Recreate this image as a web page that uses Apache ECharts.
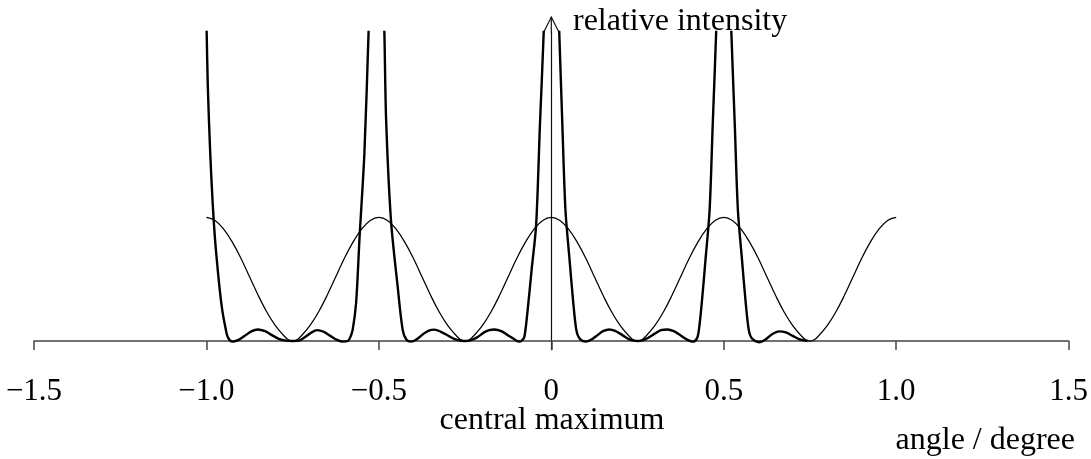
<!DOCTYPE html>
<html>
<head>
<meta charset="utf-8">
<script src="https://cdn.jsdelivr.net/npm/echarts@6/dist/echarts.min.js"></script>
<style>
html,body{margin:0;padding:0;background:#fff;}
#chart{width:1091px;height:459px;}
</style>
</head>
<body>
<div id="chart"></div>
<script>
// x-axis ticks and labels
const xTicks = [-1.5, -1.0, -0.5, 0, 0.5, 1.0, 1.5];
const xTickLabels = ['\u22121.5', '\u22121.0', '\u22120.5', '0', '0.5', '1.0', '1.5'];

// thin curve (double-slit pattern) [angle, relative intensity]
const thinCurve = [
  [-1.000,1.000],[-0.975,0.975],[-0.950,0.905],[-0.925,0.800],[-0.900,0.670],[-0.875,0.520],[-0.850,0.370],[-0.825,0.235],[-0.800,0.125],[-0.775,0.042],[-0.7625,0.011],[-0.750,0.000],
  [-0.7375,0.011],[-0.725,0.042],[-0.700,0.125],[-0.675,0.235],[-0.650,0.370],[-0.625,0.520],[-0.600,0.670],[-0.575,0.800],[-0.550,0.905],[-0.525,0.975],[-0.500,1.000],
  [-0.475,0.975],[-0.450,0.905],[-0.425,0.800],[-0.400,0.670],[-0.375,0.520],[-0.350,0.370],[-0.325,0.235],[-0.300,0.125],[-0.275,0.042],[-0.2625,0.011],[-0.250,0.000],
  [-0.2375,0.011],[-0.225,0.042],[-0.200,0.125],[-0.175,0.235],[-0.150,0.370],[-0.125,0.520],[-0.100,0.670],[-0.075,0.800],[-0.050,0.905],[-0.025,0.975],[0.000,1.000],
  [0.025,0.975],[0.050,0.905],[0.075,0.800],[0.100,0.670],[0.125,0.520],[0.150,0.370],[0.175,0.235],[0.200,0.125],[0.225,0.042],[0.2375,0.011],[0.250,0.000],
  [0.2625,0.011],[0.275,0.042],[0.300,0.125],[0.325,0.235],[0.350,0.370],[0.375,0.520],[0.400,0.670],[0.425,0.800],[0.450,0.905],[0.475,0.975],[0.500,1.000],
  [0.525,0.975],[0.550,0.905],[0.575,0.800],[0.600,0.670],[0.625,0.520],[0.650,0.370],[0.675,0.235],[0.700,0.125],[0.725,0.042],[0.7375,0.011],[0.750,0.000],
  [0.7625,0.011],[0.775,0.042],[0.800,0.125],[0.825,0.235],[0.850,0.370],[0.875,0.520],[0.900,0.670],[0.925,0.800],[0.950,0.905],[0.975,0.975],[1.000,1.000]
];

// thick curve (multi-slit grating pattern) [angle, relative intensity]
const thickCurve = [
  [-1.000,2.600],[-0.996,2.060],[-0.989,1.520],[-0.982,1.120],[-0.975,0.820],[-0.967,0.570],[-0.960,0.380],[-0.953,0.230],[-0.945,0.110],[-0.938,0.030],
  [-0.925,-0.005],[-0.910,0.005],[-0.890,0.040],[-0.870,0.078],[-0.851,0.094],[-0.830,0.080],[-0.810,0.048],[-0.790,0.018],[-0.770,0.003],[-0.750,0.000],
  [-0.730,0.005],[-0.715,0.030],[-0.695,0.070],[-0.679,0.088],[-0.660,0.075],[-0.640,0.040],[-0.620,0.008],[-0.605,-0.005],[-0.590,0.000],[-0.583,0.030],
  [-0.576,0.090],[-0.566,0.310],[-0.556,0.840],[-0.542,1.520],[-0.530,2.490],[-0.518,3.600],[-0.507,4.000],[-0.495,3.600],[-0.484,2.490],[-0.479,1.790],
  [-0.465,0.980],[-0.4455,0.440],[-0.431,0.090],[-0.420,0.010],[-0.407,-0.005],[-0.390,0.015],[-0.370,0.060],[-0.355,0.085],[-0.339,0.092],[-0.320,0.075],
  [-0.300,0.045],[-0.280,0.015],[-0.260,0.002],[-0.250,0.000],[-0.235,0.005],[-0.215,0.030],[-0.195,0.070],[-0.180,0.088],[-0.165,0.094],[-0.145,0.080],
  [-0.125,0.045],[-0.105,0.010],[-0.093,-0.005],[-0.085,0.005],[-0.078,0.035],[-0.069,0.240],[-0.057,0.580],[-0.044,0.940],[-0.033,1.750],[-0.022,2.500],
  [-0.011,3.500],[0.000,4.000],[0.011,3.500],[0.023,2.500],[0.032,1.750],[0.041,1.060],[0.053,0.655],[0.063,0.330],[0.0725,0.090],[0.082,0.020],
  [0.100,-0.005],[0.115,0.010],[0.135,0.050],[0.150,0.080],[0.168,0.094],[0.185,0.082],[0.205,0.050],[0.225,0.015],[0.240,0.003],[0.250,0.000],
  [0.262,0.003],[0.280,0.025],[0.300,0.060],[0.318,0.088],[0.337,0.094],[0.355,0.080],[0.375,0.045],[0.395,0.010],[0.410,-0.005],[0.422,0.020],
  [0.428,0.090],[0.437,0.330],[0.447,0.655],[0.459,1.060],[0.468,1.750],[0.478,2.500],[0.489,3.500],[0.500,4.000],[0.511,3.500],[0.522,2.500],
  [0.532,1.750],[0.541,1.060],[0.553,0.655],[0.563,0.330],[0.5725,0.090],[0.582,0.020],[0.603,-0.010],[0.620,0.010],[0.640,0.055],[0.661,0.078],
  [0.680,0.070],[0.700,0.042],[0.720,0.014],[0.743,0.000]
];

const FONT = '"Liberation Serif", "Times New Roman", serif';

const chart = echarts.init(document.getElementById('chart'), null, {renderer: 'canvas'});

const option = {
  animation: false,
  backgroundColor: '#ffffff',
  grid: {left: 34, right: 21.5, top: 32, bottom: 109.3, containLabel: false},
  xAxis: {
    type: 'value',
    min: -1.5, max: 1.5, interval: 0.5,
    axisLine: {show: true, onZero: true, lineStyle: {color: '#444', width: 1.6}},
    axisTick: {show: true, inside: false, length: 9, lineStyle: {color: '#444', width: 1.5}},
    splitLine: {show: false},
    axisLabel: {
      margin: 27,
      fontFamily: FONT, fontSize: 31, color: '#000',
      formatter: function (v) {
        const i = xTicks.findIndex(t => Math.abs(t - v) < 1e-9);
        return i >= 0 ? xTickLabels[i] : '';
      }
    }
  },
  yAxis: {
    type: 'value',
    min: -0.07, max: 2.5,
    axisLine: {show: true, onZero: true, lineStyle: {color: '#111', width: 1.2}},
    axisTick: {show: false},
    axisLabel: {show: false},
    splitLine: {show: false}
  },
  series: [
    {
      type: 'line', data: thinCurve, smooth: 0.4, symbol: 'none', clip: true,
      lineStyle: {color: '#000', width: 1.25}, z: 3
    },
    {
      type: 'line', data: thickCurve, smooth: 0.3, symbol: 'none', clip: true,
      lineStyle: {color: '#000', width: 2.4}, z: 4
    }
  ]
};
chart.setOption(option);

// y-axis open arrowhead and texts
const top0 = chart.convertToPixel({gridIndex: 0}, [0, 2.5]);
const ax = top0[0], ay = top0[1];
chart.setOption({
  graphic: [
    {type: 'line', shape: {x1: ax, y1: ay + 1, x2: ax, y2: ay - 15}, style: {stroke: '#111', lineWidth: 1.2}},
    {type: 'polyline', shape: {points: [[ax - 8, ay + 1], [ax, ay - 15], [ax + 8, ay + 1]]}, style: {stroke: '#111', lineWidth: 1.2, fill: null}},
    {type: 'text', x: 573, y: 21.5, style: {text: 'relative intensity', font: '32px ' + FONT, fill: '#000', align: 'left', verticalAlign: 'middle'}},
    {type: 'text', x: 552, y: 420.5, style: {text: 'central maximum', font: '32px ' + FONT, fill: '#000', align: 'center', verticalAlign: 'middle'}},
    {type: 'text', x: 1075, y: 440.5, style: {text: 'angle / degree', font: '32px ' + FONT, fill: '#000', align: 'right', verticalAlign: 'middle'}}
  ]
});
</script>
</body>
</html>
